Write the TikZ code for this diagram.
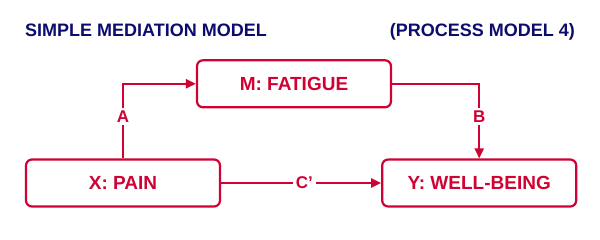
\documentclass[tikz,border=0pt]{standalone}
\usepackage{fontspec}
\setmainfont{Liberation Sans}
\usetikzlibrary{positioning, arrows.meta}
\definecolor{medred}{RGB}{208,2,52}
\definecolor{mednavy}{RGB}{12,12,110}

\begin{document}
\begin{tikzpicture}[
            x=1pt, y=1pt,
            var/.style={rectangle, draw=medred, line width=2.2pt, rounded corners=6pt, minimum width=194pt, minimum height=47pt, align=center, text=medred, font=\fontsize{19}{22}\selectfont\bfseries},
            title/.style={inner sep=0pt, text=mednavy, font=\fontsize{18}{21}\selectfont\bfseries},
            path/.style={-{Triangle[length=10pt, width=9pt]}, draw=medred, line width=2.2pt},
            lbl/.style={fill=white, inner sep=3pt, text=medred, font=\fontsize{17}{20}\selectfont\bfseries}
        ]
            \useasboundingbox (0,0) rectangle (600,240);

            % --- titles ---
            \node[title, anchor=base west] (ttl) at (25,203) {SIMPLE MEDIATION MODEL};
            \node[title, anchor=base east] (proc) at (575,203) {(PROCESS MODEL 4)};

            % --- variables ---
            \node[var] (x) at (123,57) {X: PAIN};
            \node[var, right=160pt of x] (y) {Y: WELL-BEING};
            \node[var, above=50pt of x.north, xshift=171pt] (m) {M: FATIGUE};

            % --- paths ---
            \draw[path] (x.north) |- node[lbl, pos=0.28] {A} (m.west);
            \draw[path] (m.east) -| node[lbl, pos=0.72] {B} (y.north);
            \draw[path] (x.east) -- node[lbl, pos=0.52] {C’} (y.west);

        \end{tikzpicture}
\end{document}
